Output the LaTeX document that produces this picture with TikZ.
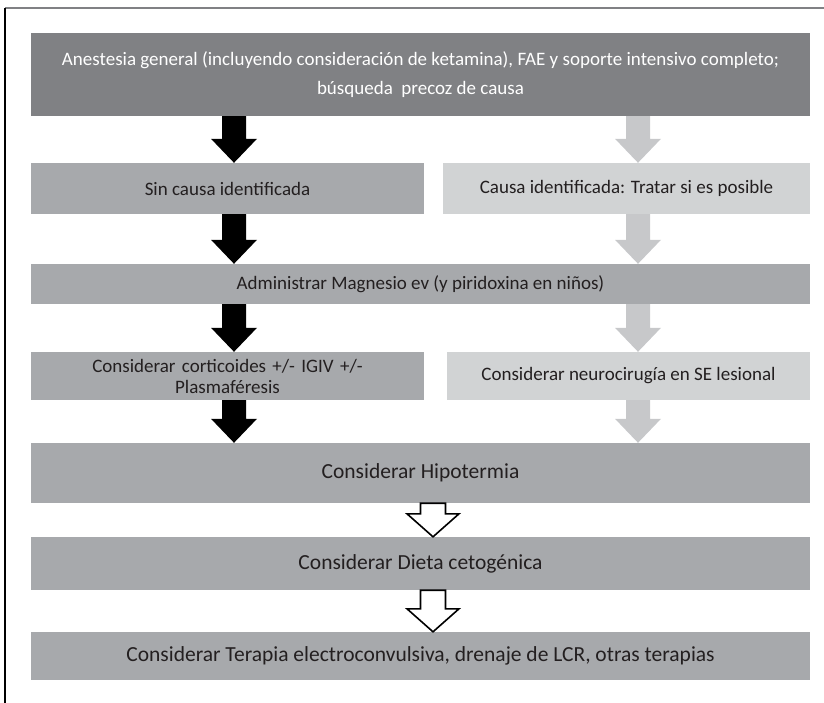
\documentclass[tikz,border=0pt]{standalone}
\usepackage{fontspec}
\setmainfont{Carlito}
\usetikzlibrary{calc}

\definecolor{topgray}{HTML}{808184}
\definecolor{midgray}{HTML}{A7A9AC}
\definecolor{palegray}{HTML}{D1D3D4}
\definecolor{arrowgray}{HTML}{C7C8CA}
\definecolor{inkgray}{HTML}{231F20}

% fat arrow: style, column, from node, to node
\newcommand{\fatarrow}[4]{%
  \path (#3.south -| #2) coordinate (as) (#4.north -| #2) coordinate (ae);
  \filldraw[#1] ($(as)+(-\sh,0)$) -- ($(ae)+(-\sh,-\hl)$) -- ($(ae)+(-\hw,-\hl)$) -- (ae)
    -- ($(ae)+(\hw,-\hl)$) -- ($(ae)+(\sh,-\hl)$) -- ($(as)+(\sh,0)$) -- cycle;
}

\begin{document}
\begin{tikzpicture}[x=1pt,y=-1pt,
  box/.style={inner sep=0pt,text=inkgray,font=\fontsize{19}{21}\selectfont,align=center},
  bigbox/.style={box,font=\fontsize{21.5}{24}\selectfont},
  solid black/.style={fill=black,draw=none},
  solid gray/.style={fill=arrowgray,draw=none},
  hollow/.style={fill=white,draw=black,line width=1.6pt,line join=miter}]
 \useasboundingbox (0,0) rectangle (824,703);
 \draw[topgray,line width=1.6pt] (5,8) -- (824,8);
 \draw[black,line width=1.6pt] (5,8) -- (5,703);

 \coordinate (colL) at (234,0);
 \coordinate (colR) at (638,0);
 \coordinate (colM) at (433,0);

 \node[box,fill=topgray,text=white,minimum width=779,minimum height=83] (anest) at (420.5,74.5)
   {Anestesia general (incluyendo consideración de ketamina), FAE y soporte intensivo completo;\\[8pt]búsqueda\ \ precoz de causa};
 \node[box,fill=midgray,minimum width=393,minimum height=51] (sincausa) at (227.5,188.5) {Sin causa identificada};
 \node[box,fill=palegray,minimum width=367,minimum height=51] (causa) at (626.5,188.5) {Causa identificada: Tratar si es posible};
 \node[box,fill=midgray,minimum width=779,minimum height=40] (magnesio) at (420.5,284) {Administrar Magnesio ev (y piridoxina en niños)};
 \node[box,fill=midgray,minimum width=393,minimum height=48,text width=393] (cortic) at (227.5,376)
   {Considerar corticoides +/- IGIV +/-\\Plasmaféresis};
 \node[box,fill=palegray,minimum width=363,minimum height=48] (neuro) at (628.5,376) {Considerar neurocirugía en SE lesional};
 \node[bigbox,fill=midgray,minimum width=779,minimum height=60] (hipo) at (420.5,473) {Considerar Hipotermia};
 \node[bigbox,fill=midgray,minimum width=779,minimum height=53] (dieta) at (420.5,563.5) {Considerar Dieta cetogénica};
 \node[bigbox,fill=midgray,minimum width=779,minimum height=48] (terapia) at (420.5,656)
   {Considerar Terapia electroconvulsiva, drenaje de LCR, otras terapias};

 \def\sh{12}\def\hw{23}\def\hl{24}
 \fatarrow{solid black}{colL}{anest}{sincausa}
 \fatarrow{solid gray}{colR}{anest}{causa}
 \fatarrow{solid black}{colL}{sincausa}{magnesio}
 \fatarrow{solid gray}{colR}{causa}{magnesio}
 \fatarrow{solid black}{colL}{magnesio}{cortic}
 \fatarrow{solid gray}{colR}{magnesio}{neuro}
 \fatarrow{solid black}{colL}{cortic}{hipo}
 \fatarrow{solid gray}{colR}{neuro}{hipo}

 \def\sh{12.5}\def\hw{26}\def\hl{23}
 \fatarrow{hollow}{colM}{hipo}{dieta}
 \fatarrow{hollow}{colM}{dieta}{terapia}
\end{tikzpicture}
\end{document}
